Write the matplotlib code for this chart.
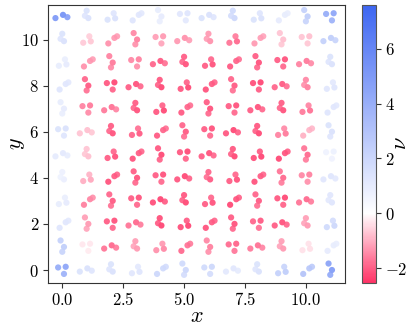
import numpy as np
import matplotlib
matplotlib.use("Agg")
import matplotlib.pyplot as plt
from matplotlib.colors import LinearSegmentedColormap, Normalize
from matplotlib.ticker import FuncFormatter

plt.rcParams['mathtext.fontset'] = 'cm'
plt.rcParams['font.family'] = 'serif'
plt.rcParams['font.serif'] = ['DejaVu Serif']

# grid of sites
xs = list(range(12))
ys = list(range(12))

# nu per site, rows y=0..11, cols x=0..11
nu = [
    [4.5, 1.5, 1.5, 1.3, 2.0, 2.0, 2.0, 1.2, 1.5, 2.5, 3.0, 5.0],    # y=0
    [2.5, -0.3, -1.9, -1.3, -1.5, -1.9, -1.6, -2.0, -1.8, -1.3, -0.4, 1.0],
    [1.3, -1.3, -2.2, -1.9, -2.4, -2.4, -2.2, -2.2, -2.1, -2.2, -1.3, 2.0],
    [1.0, -1.6, -2.1, -2.2, -2.4, -2.3, -2.2, -2.3, -2.1, -2.3, -1.9, 1.3],
    [0.8, -1.1, -2.2, -2.2, -2.2, -2.3, -2.1, -2.2, -2.2, -1.9, -1.6, 1.3],
    [1.1, -0.8, -2.2, -2.2, -2.3, -2.3, -2.2, -2.3, -2.4, -2.3, -1.9, 0.7],
    [1.5, -0.8, -2.2, -2.1, -2.1, -2.1, -2.2, -2.3, -2.3, -1.7, -1.0, 1.5],
    [1.0, -1.7, -1.8, -2.2, -2.3, -2.1, -2.2, -2.2, -2.2, -2.2, -1.8, 1.3],
    [1.3, -2.1, -2.3, -2.2, -2.3, -2.3, -2.2, -2.1, -2.4, -2.1, -1.6, 1.3],
    [1.0, -1.4, -1.7, -1.6, -2.1, -2.2, -2.2, -2.1, -2.2, -2.2, -1.7, 1.5],
    [1.5, -0.7, -1.4, -1.6, -1.3, -1.4, -1.4, -1.9, -1.3, -0.8, -0.8, 2.5],
    [5.5, 1.5, 1.5, 1.3, 1.0, 1.3, 1.5, 2.0, 1.5, 1.0, 2.5, 4.5],    # y=11
]

# jitter patterns (3 particles per site)
jit_x = [
    [-0.17, 0.14, 0.07],
    [-0.28, 0.03, 0.21],
    [0.00, 0.07, -0.07],
    [-0.14, 0.17, 0.11],
    [0.14, -0.11, 0.25],
    [-0.07, 0.07, 0.00],
]
jit_y = [
    [0.11, 0.14, -0.17],
    [-0.07, 0.07, -0.03],
    [0.25, -0.07, 0.03],
    [-0.14, -0.08, 0.14],
    [0.07, -0.17, 0.14],
    [0.28, 0.00, -0.21],
]
nu_dev = [0.0, 0.25, -0.25]

px, py, pc = [], [], []
for j, y in enumerate(ys):
    for i, x in enumerate(xs):
        k = (i * 7 + j * 5) % len(jit_x)
        for m in range(3):
            px.append(x + jit_x[k][m])
            py.append(y + jit_y[k][m])
            pc.append(nu[j][i] * (1 + nu_dev[m] * 0.3))

vmin, vmax = -2.55, 7.6
f0 = (0 - vmin) / (vmax - vmin)
cmap = LinearSegmentedColormap.from_list(
    'rwb', [(0.0, '#ff3366'), (f0, '#ffffff'), (1.0, '#3d66f2')])
norm = Normalize(vmin=vmin, vmax=vmax)

fig = plt.figure(figsize=(4.15, 3.3), dpi=100)
ax = fig.add_axes([0.116, 0.142, 0.715, 0.843])
cax = fig.add_axes([0.872, 0.142, 0.034, 0.843])

sc = ax.scatter(px, py, c=pc, cmap=cmap, norm=norm, s=20, alpha=0.85,
                linewidths=0)
ax.set_xlim(-0.58, 11.6)
ax.set_ylim(-0.57, 11.5)
ax.set_xticks([0, 2.5, 5, 7.5, 10])
ax.set_yticks([0, 2, 4, 6, 8, 10])
ax.xaxis.set_major_formatter(FuncFormatter(lambda v, p: f'${v:.1f}$'))
ax.yaxis.set_major_formatter(FuncFormatter(lambda v, p: f'${v:g}$'))
ax.tick_params(labelsize=12, color='#333333', pad=3)
for s in ax.spines.values():
    s.set_color('#333333')
ax.set_xlabel('$x$', fontsize=16, labelpad=-3)
ax.set_ylabel('$y$', fontsize=16, labelpad=-4)

cb = fig.colorbar(sc, cax=cax)
cb.solids.set_alpha(1)
cb.set_ticks([-2, 0, 2, 4, 6])
cb.ax.yaxis.set_major_formatter(FuncFormatter(lambda v, p: f'${v:g}$'))
cb.ax.tick_params(labelsize=12, color='#333333', pad=3)
cb.outline.set_edgecolor('#555555')
# colorbar label placed by hand, sits just right of the tick labels
fig.text(0.965, 0.565, r'$\nu$', fontsize=16, rotation=90,
         ha='center', va='center')

fig.savefig('out.png', dpi=100)
